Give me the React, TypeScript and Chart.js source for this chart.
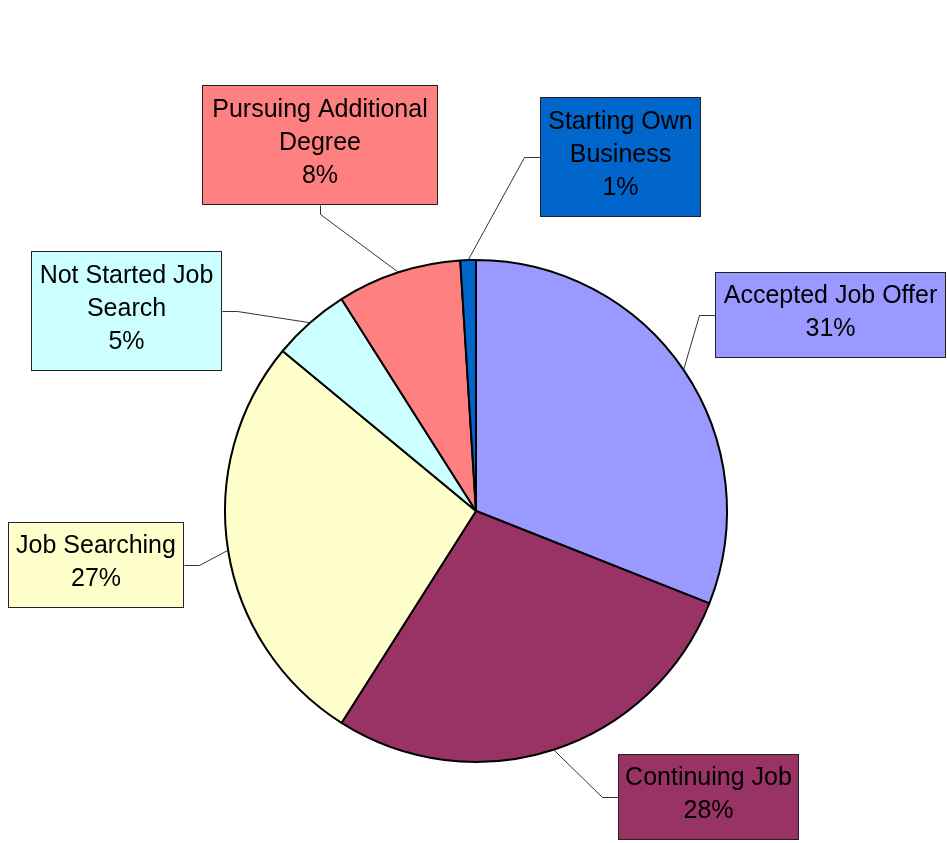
import React, { useEffect, useRef } from "react";
import { Chart, registerables } from "chart.js";

Chart.register(...registerables);

const categories = [
  "Accepted Job Offer",
  "Continuing Job",
  "Job Searching",
  "Not Started Job Search",
  "Pursuing Additional Degree",
  "Starting Own Business",
];
const labelLines = [
  ["Accepted Job Offer"],
  ["Continuing Job"],
  ["Job Searching"],
  ["Not Started Job", "Search"],
  ["Pursuing Additional", "Degree"],
  ["Starting Own", "Business"],
];
const values = [31, 28, 27, 5, 8, 1];
const colors = ["#9999FF", "#993366", "#FFFFCC", "#CCFFFF", "#FF8080", "#0066CC"];

// label box layout (pixels on the canvas) and where the leader attaches
const boxes = [
  { x: 715, y: 272, w: 231, h: 86, side: "left" },
  { x: 618, y: 754, w: 181, h: 86, side: "left" },
  { x: 8, y: 522, w: 176, h: 86, side: "right" },
  { x: 31, y: 251, w: 191, h: 120, side: "right" },
  { x: 202, y: 85, w: 236, h: 120, side: "bottom" },
  { x: 540, y: 97, w: 161, h: 120, side: "left" },
];

const FONT = '25px "Liberation Sans", Arial, sans-serif';

const labelPlugin = {
  id: "boxLabels",
  afterDatasetsDraw(chart: any) {
    const ctx = chart.ctx as CanvasRenderingContext2D;
    const meta = chart.getDatasetMeta(0);
    const data = chart.data.datasets[0].data as number[];
    const total = data.reduce((a, b) => a + b, 0);
    meta.data.forEach((arc: any, i: number) => {
      const p = arc.getProps(["x", "y", "startAngle", "endAngle", "outerRadius"], true);
      const mid = (p.startAngle + p.endAngle) / 2;
      const ax = p.x + Math.cos(mid) * p.outerRadius;
      const ay = p.y + Math.sin(mid) * p.outerRadius;
      const b = boxes[i];
      let ex = 0, ey = 0, kx = 0, ky = 0;
      if (b.side === "left") {
        ex = b.x; ey = b.y + b.h / 2; kx = ex - 16; ky = ey;
      } else if (b.side === "right") {
        ex = b.x + b.w; ey = b.y + b.h / 2; kx = ex + 15; ky = ey;
      } else {
        ex = b.x + b.w / 2; ey = b.y + b.h; kx = ex; ky = ey + 9;
      }
      ctx.save();
      ctx.strokeStyle = "#333333";
      ctx.lineWidth = 1;
      ctx.beginPath();
      ctx.moveTo(ax, ay);
      ctx.lineTo(Math.round(kx) + 0.5, Math.round(ky) + 0.5);
      ctx.lineTo(Math.round(ex) + 0.5, Math.round(ey) + 0.5);
      ctx.stroke();

      ctx.fillStyle = colors[i];
      ctx.fillRect(b.x, b.y, b.w, b.h);
      ctx.strokeStyle = "#222222";
      ctx.strokeRect(b.x + 0.5, b.y + 0.5, b.w - 1, b.h - 1);

      const lines = [...labelLines[i], Math.round((data[i] / total) * 100) + "%"];
      ctx.fillStyle = "#000000";
      ctx.font = FONT;
      ctx.textAlign = "center";
      ctx.textBaseline = "middle";
      const lh = 33;
      const cy = b.y + b.h / 2 - 2;
      lines.forEach((t, j) => {
        ctx.fillText(t, b.x + b.w / 2, cy + (j - (lines.length - 1) / 2) * lh);
      });
      ctx.restore();
    });
  },
};

export default function App() {
  const ref = useRef<HTMLCanvasElement>(null);
  useEffect(() => {
    if (!ref.current) return;
    const chart = new Chart(ref.current, {
      type: "pie",
      data: {
        labels: categories,
        datasets: [
          {
            data: values,
            backgroundColor: colors,
            borderColor: "#000000",
            borderWidth: 2,
          },
        ],
      },
      options: {
        responsive: false,
        animation: false,
        layout: { padding: { left: 224, right: 219, top: 259, bottom: 80 } },
        plugins: {
          legend: { display: false },
          tooltip: { enabled: false },
        },
      },
      plugins: [labelPlugin],
    });
    return () => chart.destroy();
  }, []);
  return (
    <div style={{ position: "absolute", left: 0, top: 0, width: 947, height: 843, background: "#fff" }}>
      <canvas ref={ref} width={947} height={843} style={{ display: "block" }} />
    </div>
  );
}
